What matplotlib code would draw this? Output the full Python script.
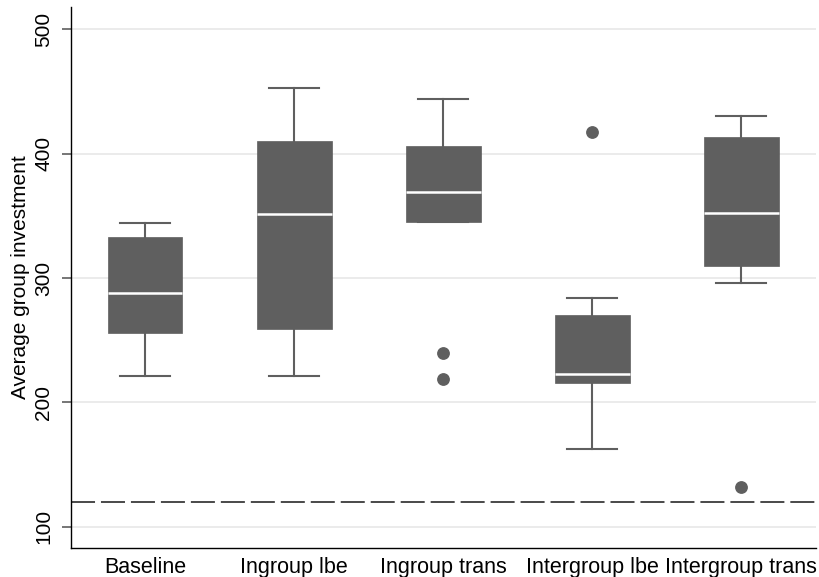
import matplotlib
matplotlib.use("Agg")
import matplotlib.pyplot as plt

categories = ["Baseline", "Ingroup lbe", "Ingroup trans", "Intergroup lbe", "Intergroup trans"]
whisker_low = [221.4, 221.4, 345.3, 162.5, 296.0]
q1 = [256.0, 259.2, 345.3, 215.8, 309.4]
median = [287.7, 351.5, 369.1, 222.6, 352.0]
q3 = [333.0, 410.2, 406.1, 270.3, 413.4]
whisker_high = [344.0, 452.8, 443.9, 284.2, 430.3]
outliers = [[], [], [239.4, 218.5], [417.2], [132.2]]
reference_line = 120
yticks = [100, 200, 300, 400, 500]

plt.rcParams['font.family'] = ['Liberation Sans', 'DejaVu Sans']

fig = plt.figure(figsize=(8.2, 5.77), dpi=100)
ax = fig.add_axes([0.0862, 0.0508, 0.9088, 0.9365])

box_color = "#5f5f5f"
stats = []
for i, c in enumerate(categories):
    stats.append(dict(label=c, whislo=whisker_low[i], q1=q1[i], med=median[i],
                      q3=q3[i], whishi=whisker_high[i], fliers=outliers[i]))

positions = list(range(1, len(categories) + 1))
ax.bxp(stats, positions=positions, widths=0.5, patch_artist=True, showfliers=True,
       boxprops=dict(facecolor=box_color, edgecolor=box_color, linewidth=0.5),
       medianprops=dict(color="white", linewidth=1.8),
       whiskerprops=dict(color=box_color, linewidth=1.5),
       capprops=dict(color=box_color, linewidth=1.5),
       capwidths=0.335,
       flierprops=dict(marker="o", markerfacecolor=box_color, markeredgecolor=box_color,
                       markersize=8.2, linestyle="none"),
       zorder=3)

ax.axhline(reference_line, color="#3a3a3a", linewidth=1.3, dashes=(13.3, 3.3), zorder=2)

ax.set_xlim(0.5, 5.5)
ax.set_ylim(83.1, 517.7)
ax.set_yticks(yticks)
ax.set_yticklabels([str(t) for t in yticks], rotation=90, va="center", fontsize=15)
ax.set_xticks(positions)
ax.set_xticklabels(categories, fontsize=15.5)
ax.tick_params(axis="x", length=0, pad=7)
ax.tick_params(axis="y", length=6.5, width=1.2, color="#5f5f5f", pad=6)
ax.set_ylabel("Average group investment", fontsize=15, labelpad=3)

ax.yaxis.grid(True, color="#e8e8e8", linewidth=1.2, zorder=0)
ax.set_axisbelow(True)
for s in ["top", "right"]:
    ax.spines[s].set_visible(False)
for s in ["left", "bottom"]:
    ax.spines[s].set_color("black")
    ax.spines[s].set_linewidth(1.0)

fig.savefig("out.png", dpi=100)
